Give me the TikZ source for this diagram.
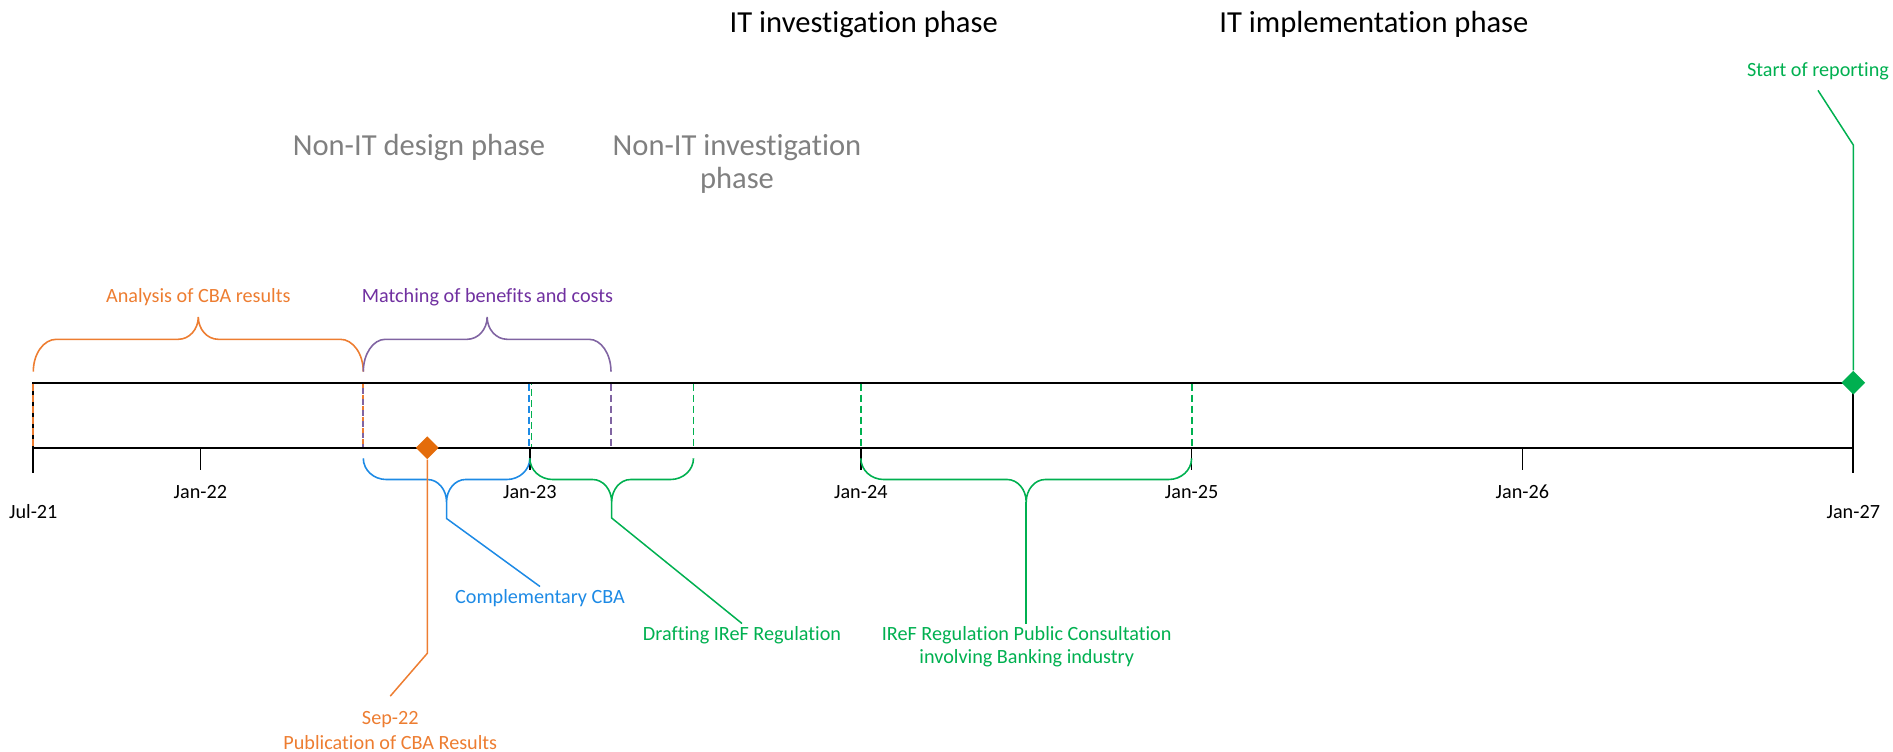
\documentclass[tikz,border=0pt]{standalone}
\usepackage{fontspec}
\setmainfont{Carlito}[Ligatures=NoCommon]
\usetikzlibrary{shapes.geometric}
\definecolor{cOrange}{HTML}{ED7D31}
\definecolor{cOrangeD}{HTML}{E46C0A}
\definecolor{cPurple}{HTML}{8064A2}
\definecolor{cPurpleT}{HTML}{7030A0}
\definecolor{cBlue}{HTML}{1D8AE5}
\definecolor{cGreen}{HTML}{00B050}
\definecolor{cGray}{HTML}{808080}
% #1 colour, #2 x0, #3 x1, #4 end y, #5 bar y, #6 tip y, #7 end radius, #8 tip radius
\newcommand\tlbrace[8]{%
  \draw[bracestyle,#1] (#2,#4)
   .. controls (#2,{#4+0.552*(#5-#4)}) and ({#2+0.448*#7},#5) .. ({#2+#7},#5)
   -- ({(#2+#3)/2-#8},#5)
   .. controls ({(#2+#3)/2-0.448*#8},#5) and ({(#2+#3)/2},{#6+0.552*(#5-#6)}) .. ({(#2+#3)/2},#6)
   .. controls ({(#2+#3)/2},{#6+0.552*(#5-#6)}) and ({(#2+#3)/2+0.448*#8},#5) .. ({(#2+#3)/2+#8},#5)
   -- ({#3-#7},#5)
   .. controls ({#3-0.448*#7},#5) and (#3,{#4+0.552*(#5-#4)}) .. (#3,#4);}
\begin{document}
\begin{tikzpicture}[x=0.02cm,y=-0.02cm,
  axisline/.style={line width=1.15pt,black},
  tickline/.style={line width=0.95pt,black},
  bracestyle/.style={line width=0.9pt},
  dashline/.style={line width=1.05pt,dash pattern=on 4pt off 2.3pt},
  conn/.style={line width=0.85pt},
  lbl/.style={font=\fontsize{11.5}{13}\selectfont,inner sep=1.2pt,anchor=base},
  phase/.style={font=\fontsize{17.4}{19}\selectfont,anchor=base,inner sep=0pt},
  milestone/.style={diamond,minimum size=0.46cm,inner sep=0pt,draw=none}]
\useasboundingbox (0,0) rectangle (1893,751);

% phase titles
\node[phase] (itInv) at (863.8,32) {IT investigation phase};
\node[phase] (itImp) at (1373.9,32) {IT implementation phase};
\node[phase,text=cGray] (nonDes) at (419,155) {Non-IT design phase};
\node[phase,text=cGray] (nonInvA) at (737,155) {Non-IT investigation};
\node[phase,text=cGray] (nonInvB) at (737,188.5) {phase};

% timeline band
\draw[axisline] (33.3,382.7) rectangle (1853.3,447.7);
\draw[tickline] (33.3,447.7) -- (33.3,472.5);
\draw[tickline] (1853.3,447.7) -- (1853.3,472.5);
\foreach \xx in {200.4,529.8,860.8,1191.6,1522.4}
  \draw[tickline] (\xx,447.7) -- (\xx,469.5);

% tick labels
\node[lbl] (tJul21) at (33.3,518) {Jul-21};
\node[lbl] (tJan22) at (200.4,498) {Jan-22};
\node[lbl] (tJan23) at (529.8,498) {Jan-23};
\node[lbl] (tJan24) at (860.8,498) {Jan-24};
\node[lbl] (tJan25) at (1191.6,498) {Jan-25};
\node[lbl] (tJan26) at (1522.4,498) {Jan-26};
\node[lbl] (tJan27) at (1853.3,518) {Jan-27};

% dashed markers
\draw[dashline,cOrange] (33.3,383.5) -- (33.3,447);
\draw[dashline,cOrange] (363.3,383.5) -- (363.3,447);
\draw[dashline,cPurple,dash pattern=on 3pt off 3.3pt,dash phase=3.6pt] (363.3,383.5) -- (363.3,447);
\draw[dashline,cBlue] (529,383.5) -- (529,447);
\draw[dashline,cGreen,dash phase=3.2pt] (531.5,383.5) -- (531.5,447);
\draw[dashline,cPurple] (611,383.5) -- (611,447);
\draw[dashline,cGreen] (693.5,383.5) -- (693.5,447);
\draw[dashline,cGreen] (860.8,383.5) -- (860.8,447);
\draw[dashline,cGreen] (1191.6,383.5) -- (1191.6,447);

% braces above
\tlbrace{cOrange}{33.3}{363.3}{371.7}{339.3}{317}{23}{20}
\tlbrace{cPurple}{363.3}{611}{371.7}{339.3}{317}{22}{20}
\node[lbl,text=cOrange] (anaLbl) at (198.3,302) {Analysis of CBA results};
\node[lbl,text=cPurpleT] (matLbl) at (487.5,302) {Matching of benefits and costs};

% braces below
\tlbrace{cBlue}{363.3}{529.8}{458.3}{479.5}{502}{23}{19}
\tlbrace{cGreen}{529.8}{693.5}{458.3}{479.5}{502}{23}{19}
\tlbrace{cGreen}{860.8}{1191.6}{458.3}{479.5}{502}{23}{19}
\coordinate (compTip) at (446.55,502);
\coordinate (draftTip) at (611.65,502);
\coordinate (consTip) at (1026.2,502);

% labels below
\node[lbl,text=cBlue] (compLbl) at (540,603) {Complementary CBA};
\node[lbl,text=cGreen] (draftLbl) at (742,640) {Drafting IReF Regulation};
\node[lbl,text=cGreen] (consLblA) at (1026.7,640) {IReF Regulation Public Consultation};
\node[lbl,text=cGreen] (consLblB) at (1026.7,663) {involving Banking industry};
\node[lbl,text=cOrange,inner ysep=8.5pt] (sepLblA) at (390.3,724.5) {Sep-22};
\node[lbl,text=cOrange] (sepLblB) at (390.3,749) {Publication of CBA Results};
\node[lbl,text=cGreen,inner ysep=6pt] (repLbl) at (1818,76) {Start of reporting};

% connectors
\draw[conn,cBlue] (compTip) -- ++(0,16.5) -- (compLbl.north);
\draw[conn,cGreen] (draftTip) -- ++(0,16) -- (draftLbl.north);
\draw[conn,cGreen] (consTip) -- (consTip |- consLblA.north);

% milestones
\node[milestone,fill=cOrangeD] (sepDia) at (427.3,447.7) {};
\node[milestone,fill=cGreen,minimum size=0.48cm] (repDia) at (1853.3,382.7) {};
\draw[conn,cOrange] (sepDia.south) -- (sepDia.south |- 0,653.3) -- (sepLblA.north);
\draw[conn,cGreen] (repDia.north) -- (repDia.north |- 0,145) -- (repLbl.south);
\end{tikzpicture}
\end{document}
